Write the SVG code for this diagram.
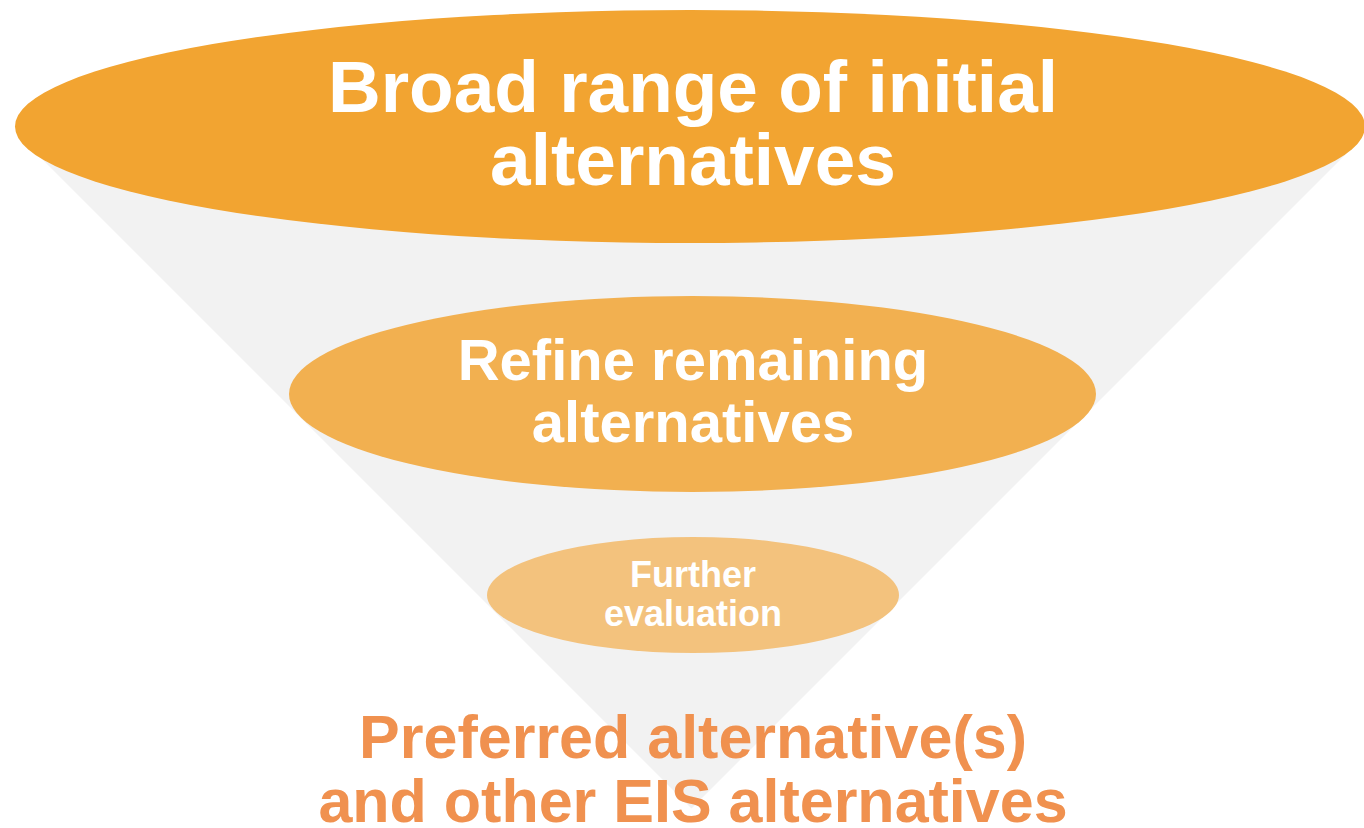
<svg xmlns="http://www.w3.org/2000/svg" width="1364" height="828" viewBox="0 0 1364 828">
  <style>
    .w { font-family: "Liberation Sans", Arial, sans-serif; font-weight: bold; fill: #FFFFFF; text-anchor: middle; }
    .o { font-family: "Liberation Sans", Arial, sans-serif; font-weight: bold; fill: #F0914F; text-anchor: middle; }
  </style>
  <rect width="1364" height="828" fill="#FFFFFF"/>
  <g id="funnel">
    <polygon points="23,140 1360,140 691.5,808.5" fill="#F2F2F2"/>
  </g>
  <g id="connectors"></g>
  <g id="stage1">
    <ellipse cx="690" cy="126.5" rx="675" ry="116.5" fill="#F2A431"/>
    <text class="w" x="693" y="112" font-size="73">Broad range of initial</text>
    <text class="w" x="693" y="185" font-size="73">alternatives</text>
  </g>
  <g id="stage2">
    <ellipse cx="692.5" cy="394" rx="403.5" ry="98" fill="#F2B050"/>
    <text class="w" x="693" y="380" font-size="58">Refine remaining</text>
    <text class="w" x="693" y="442" font-size="58">alternatives</text>
  </g>
  <g id="stage3">
    <ellipse cx="693" cy="595" rx="206" ry="58" fill="#F3C27D"/>
    <text class="w" x="693" y="587" font-size="36">Further</text>
    <text class="w" x="693" y="626" font-size="36">evaluation</text>
  </g>
  <g id="result">
    <text class="o" x="693" y="758" font-size="61">Preferred alternative(s)</text>
    <text class="o" x="693" y="822" font-size="61">and other EIS alternatives</text>
  </g>
</svg>
